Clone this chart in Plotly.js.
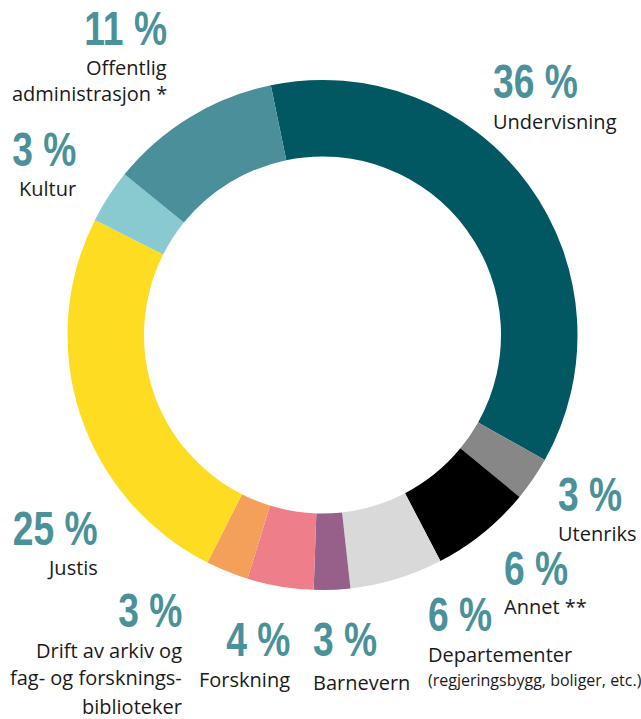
<!DOCTYPE html>
<html>
<head>
<meta charset="utf-8">
<script src="https://cdn.plot.ly/plotly-3.0.1.min.js"></script>
<style>
html,body{margin:0;padding:0;background:#fff;}
#chart{width:641px;height:719px;}
</style>
</head>
<body>
<div id="chart"></div>
<script>
// ---- data ----
var categories = ['Undervisning','Utenriks','Annet **','Departementer','Barnevern','Forskning','Drift av arkiv og fag- og forskningsbiblioteker','Justis','Kultur','Offentlig administrasjon *'];
// slice sizes (angles)
var values = [36.4, 2.8, 6.4, 5.9, 2.3, 4.2, 2.7, 25.0, 3.4, 10.9];
// rounded shares printed on the chart
var shares = [36, 3, 6, 6, 3, 4, 3, 25, 3, 11];
var labelLines = [
  ['Undervisning'],
  ['Utenriks'],
  ['Annet **'],
  ['Departementer'],
  ['Barnevern'],
  ['Forskning'],
  ['Drift av arkiv og','fag- og forsknings-','biblioteker'],
  ['Justis'],
  ['Kultur'],
  ['Offentlig','administrasjon *']
];
var subNotes = ['', '', '', '(regjeringsbygg, boliger, etc.)', '', '', '', '', '', ''];
var colors = ['#025862','#878787','#000000','#d9d9d9','#96608a','#ee7e89','#f5a05a','#fedc22','#89c9d0','#4a8f99'];

// ---- layout (pixel placements for the label blocks) ----
var W = 641, H = 719;
var place = [
  {x:492, a:'left',  n:81,    l:[121],          s:null},
  {x:557, a:'left',  n:494,   l:[533],          s:null},
  {x:503, a:'left',  n:567.5, l:[606],          s:null},
  {x:427, a:'left',  n:614,   l:[654],          s:680},
  {x:312, a:'left',  n:639,   l:[682],          s:null},
  {x:291, a:'right', n:639,   l:[679],          s:null},
  {x:183, a:'right', n:610,   l:[650,677,706],  s:null},
  {x:99,  a:'right', n:527.5, l:[567],          s:null},
  {x:77,  a:'right', n:149,   l:[188],          s:null},
  {x:168, a:'right', n:28.5,  l:[67.5,93],      s:null}
];
var numFont = {family:'"Liberation Sans", Arial, sans-serif', size:49, color:'#4a9199', weight:'bold'};
var txtFont = {family:'"Open Sans", sans-serif', size:20, color:'#1a1a1a'};
var subFont = {family:'"Open Sans", sans-serif', size:16, color:'#1a1a1a'};
var NUM_SCALE = 0.76; // horizontal condensing of the big percentage figures

var annotations = [];
var numIdx = [];
function ann(text, p, y, font){
  annotations.push({text:text, xref:'paper', yref:'paper', x:p.x/W, y:1 - y/H,
    xanchor:p.a, yanchor:'middle', align:p.a, showarrow:false, font:font, borderpad:0});
}
for (var i = 0; i < categories.length; i++){
  var p = place[i];
  numIdx.push({idx:annotations.length, a:p.a});
  ann(shares[i] + ' %', p, p.n, numFont);
  for (var j = 0; j < labelLines[i].length; j++) ann(labelLines[i][j], p, p.l[j], txtFont);
  if (subNotes[i]) ann(subNotes[i], p, p.s, subFont);
}

var cx = 322.5, cy = 335, R = 255;
var trace = {
  type:'pie',
  labels:categories,
  values:values,
  sort:false,
  direction:'clockwise',
  rotation:-11.7,
  hole:0.70,
  textinfo:'none',
  hoverinfo:'skip',
  marker:{colors:colors, line:{width:0}},
  domain:{x:[(cx-R)/W,(cx+R)/W], y:[1-(cy+R)/H, 1-(cy-R)/H]}
};
var layout = {
  width:W, height:H,
  margin:{l:0,r:0,t:0,b:0},
  showlegend:false,
  paper_bgcolor:'#ffffff',
  annotations:annotations
};
Plotly.newPlot('chart',[trace],layout,{displayModeBar:false,staticPlot:true}).then(function(gd){
  numIdx.forEach(function(n){
    var g = gd.querySelector('g.annotation[data-index="' + n.idx + '"] text.annotation-text');
    if (!g) return;
    var bb = g.getBBox();
    var px = n.a === 'left' ? bb.x : bb.x + bb.width;
    g.setAttribute('transform', 'translate(' + px + ',0) scale(' + NUM_SCALE + ',1) translate(' + (-px) + ',0)');
  });
});
</script>
</body>
</html>
